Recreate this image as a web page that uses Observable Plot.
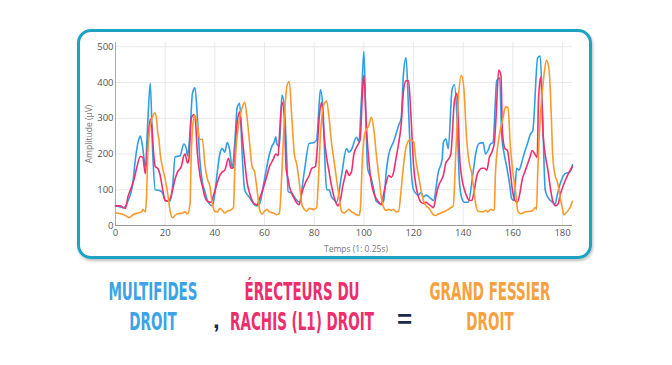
<!DOCTYPE html>
<html><head><meta charset="utf-8">
<script src="https://cdn.jsdelivr.net/npm/d3@7"></script>
<script src="https://cdn.jsdelivr.net/npm/@observablehq/plot@0.6"></script>
<style>
body{margin:0;width:672px;height:365px;background:#fff;position:relative;overflow:hidden;font-family:"Open Sans",sans-serif}
#box{position:absolute;left:77px;top:29px;width:509px;height:224px;border:3px solid #1ea2c3;border-radius:14px;box-shadow:1px 2px 3px rgba(0,0,0,0.25)}
#chart{position:absolute;left:80px;top:33px}
.lbl{position:absolute;width:240px;text-align:center;font-family:"Liberation Sans Narrow","DejaVu Sans Condensed",sans-serif;font-weight:bold;font-size:25px;line-height:30px;transform:scaleX(0.6);transform-origin:center top;white-space:nowrap}
.sym{position:absolute;font-family:"Liberation Sans","DejaVu Sans",sans-serif;font-weight:bold;color:#1d2a4c}
</style>
</head><body>
<div id="box"></div>
<div id="chart"></div>
<script>
// ---- data ----
const seriesNames = ["Multifides droit", "Érecteurs du rachis (L1) droit", "Grand fessier droit"];
const seriesColors = ["#2f9ee6", "#f0306e", "#fa9a2c"];
const xTicks = [0,20,40,60,80,100,120,140,160,180];
const yTicks = [0,100,200,300,400,500];

const multifidesT = [0,2,3,5,7,8,9,10,11,12,13,14,15,16,18,19,20,22,23,24,26,27.5,28.5,29,30,31,32,33,34,35,36,37,39,40,41,42,43,44,45,46,47,48,49,50,51,52,54,56,57,58,60,62,63,64,64.5,65,66,67,68,69,69.5,71,72.5,74,76,78,80,81,82,82.5,83.5,84.5,85,86,87,88,89,91,93,94,95,97,98,99,100,100.7,101.5,103,104,105,107,108,109,110,112,114,115,116,117,118,119,120,122,123,124,125,127,128,130,131.5,132,133,134,135.5,136.5,137.5,138.5,139.5,140.5,142,144,145,146.5,148,149,150,151,152,153.5,154.7,155.5,156.5,157.5,158.8,159.5,160.5,161.5,162.5,163.5,164.5,166,167,168,170,171,172,173,174,176,177,178,180,181,183,184];
const multifidesV = [55,52,50,68,120,185,230,250,215,165,290,398,200,100,97,90,70,68,110,192,195,228,215,195,260,370,385,300,180,120,95,70,55,90,150,200,215,205,232,210,160,230,330,342,200,100,78,58,55,60,130,200,222,235,248,228,222,365,330,180,95,90,75,65,150,230,232,240,340,380,330,150,100,100,80,72,65,140,215,205,212,247,235,350,487,330,160,130,100,68,60,70,150,198,235,280,300,430,470,320,160,100,85,92,80,85,75,70,150,185,232,242,215,380,394,300,120,75,65,65,150,200,230,232,200,210,228,232,405,413,250,200,165,110,75,70,160,155,175,200,232,255,265,470,474,300,100,80,65,60,90,135,145,150,170];

const erecteursT = [0,2,3,4,5,6,7.5,8.5,10,11,12,13,14,14.5,15.5,16,17,18,19,20,21,22,23,24,25,26.5,27.5,28,29,29.5,30.5,31.5,32,33,34,35,36,37,38.5,39.5,41,42,43,44,45.5,46.5,47.5,49,50,51,52,53,54,55,56,57,58,59.5,61,62,63.5,64.5,65.5,66,67,68,68.7,69.5,70,71,72,73,74,75,76.5,78,79,80.5,81,82,83,84,85,86,87,88,89,89.5,90.5,91.5,92.5,93,94,95,96,97.5,98.5,99.5,100,101,102,103,104,105,106,107,108,109,110,111,112,113,114,115,116,117,118,119,120,121,122,123,124,125,126,127,128,129,130,131,132,133,134,135,136.5,137.5,138,138.5,139.5,140.5,141.5,142.5,143.5,144.5,145.5,146.5,147.5,148.5,149.5,150.5,151.5,152.5,153.2,154.3,155.2,155.8,156.8,157.8,158.8,159.8,160.8,161.8,162.8,163.8,164.8,165.8,166.8,167.8,168.8,169.8,170.3,171.2,172.2,173.2,174.2,175.2,176.2,177.2,178.2,179.2,180.2,182,184];
const erecteursV = [55,55,50,48,80,100,130,160,193,190,145,230,298,285,190,165,160,140,100,70,68,75,100,130,150,165,195,200,175,182,300,310,305,200,140,110,80,68,65,85,120,140,150,155,188,160,162,290,318,250,180,120,90,70,60,58,75,105,140,165,185,200,195,250,345,300,160,130,110,90,75,63,58,90,120,140,160,165,195,300,345,250,190,150,110,80,60,55,70,110,140,155,140,150,200,225,240,380,420,280,180,120,90,75,65,58,90,120,140,135,150,190,230,280,380,405,405,300,170,110,80,65,62,65,60,55,50,80,110,125,140,175,185,200,350,370,300,200,130,100,80,70,70,100,140,155,160,160,155,190,205,230,300,435,420,260,215,210,160,100,70,65,90,130,150,170,190,210,200,190,350,415,250,190,150,100,65,55,60,90,110,140,165];

const fessierT = [0,2,4,5.5,7,9,10.5,11,12,12.5,13,14,15,15.8,16.5,17,17.5,18,19,20,21,22,23,24,25,27,28,29,30,30.5,31.5,32,33,34,35,36,37,38,39,40,41,42,43,44,45,46,47.5,48,49.5,51,52,53,54,55,56,57,58,59,60,61,62,63.5,65,66,67,68,69,70,71,72,73,74,75,76,77,78,80,81,81.5,82.5,84,85,86,87,88,89,90,91,92,93,94,95,96,97,98,98.5,99.5,100.5,102,103,104,105,106,107,108,109,110,111,112,113,114,115,116,117,118.5,120,121,122,123,124,125,126,127,128,129,130,132,134,135,136,137,138,139.3,140.3,141.3,142.3,143.3,144.3,145.3,146,148,149,150,151,152,152.5,153,154.5,156,157,158,159,160,161,162,163,165,167,168,169,169.5,170,171,172.5,173.5,174.5,175.5,176,177,178,179,180,180.5,182,183,184];
const fessierV = [35,33,28,22,30,35,38,45,38,80,200,280,305,315,300,260,240,200,160,130,90,40,22,28,33,35,38,32,60,200,300,308,280,240,242,170,130,110,60,40,38,48,42,35,40,42,50,150,280,330,345,300,230,165,150,100,45,32,40,45,38,35,30,35,150,300,390,403,300,200,170,120,60,45,40,48,45,50,100,250,340,348,300,230,180,130,80,40,35,40,45,38,35,30,28,40,200,260,280,303,270,200,140,80,50,42,45,42,45,38,40,100,170,220,240,235,180,140,100,70,55,50,40,30,28,32,38,45,50,55,200,350,420,380,250,180,150,100,50,40,38,42,38,45,42,45,150,250,300,332,330,220,150,100,40,33,38,40,42,50,45,150,300,420,462,440,300,200,140,120,80,45,30,40,50,68];

// ---- build table ----
const rows = [
  ...multifidesT.map((t, i) => ({serie: seriesNames[0], t, v: multifidesV[i]})),
  ...erecteursT.map((t, i) => ({serie: seriesNames[1], t, v: erecteursV[i]})),
  ...fessierT.map((t, i) => ({serie: seriesNames[2], t, v: fessierV[i]}))
];

const chart = Plot.plot({
  width: 505, height: 222,
  marginLeft: 35, marginRight: 13, marginTop: 9, marginBottom: 30,
  style: {fontFamily: "'Open Sans', sans-serif", fontSize: "9.5px", color: "#555", background: "transparent"},
  x: {domain: [0, 184]},
  y: {domain: [0, 512]},
  color: {domain: seriesNames, range: seriesColors},
  marks: [
    Plot.gridX(xTicks.filter(d => d > 0), {stroke: "#e9e9e9", strokeOpacity: 1}),
    Plot.gridY(yTicks.filter(d => d > 0), {stroke: "#e9e9e9", strokeOpacity: 1}),
    Plot.axisX(xTicks, {tickSize: 0, tickPadding: 4, label: "Temps (1: 0.25s)", labelAnchor: "center", labelArrow: "none", labelOffset: 26}),
    Plot.axisY(yTicks, {tickSize: 0, tickPadding: 2, label: "Amplitude (µV)", labelAnchor: "center", labelArrow: "none", labelOffset: 30}),
    Plot.ruleX([0], {stroke: "#aaa"}),
    Plot.ruleY([0], {stroke: "#999"}),
    Plot.line(rows, {x: "t", y: "v", z: "serie", stroke: "serie", curve: "monotone-x", strokeWidth: 1.6})
  ]
});
document.getElementById("chart").appendChild(chart);
// axis title styling
d3.select(chart).selectAll('[aria-label="x-axis label"] text, [aria-label="y-axis label"] text')
  .attr("fill", "#777").style("font-size", "8.5px");
d3.select(chart).selectAll('[aria-label="x-axis label"] text').attr("dx", 12);
</script>
<div class="lbl" style="left:33px;top:277px;color:#3ba3e6">MULTIFIDES<br>DROIT</div>
<div class="sym" style="left:213px;top:306px;font-size:24px">,</div>
<div class="lbl" style="left:182px;top:277px;color:#ee2d6c">ÉRECTEURS DU<br>RACHIS (L1) DROIT</div>
<div class="sym" style="left:397px;top:304px;font-size:26px">=</div>
<div class="lbl" style="left:370px;top:277px;color:#f8a03e">GRAND FESSIER<br>DROIT</div>
</body></html>
